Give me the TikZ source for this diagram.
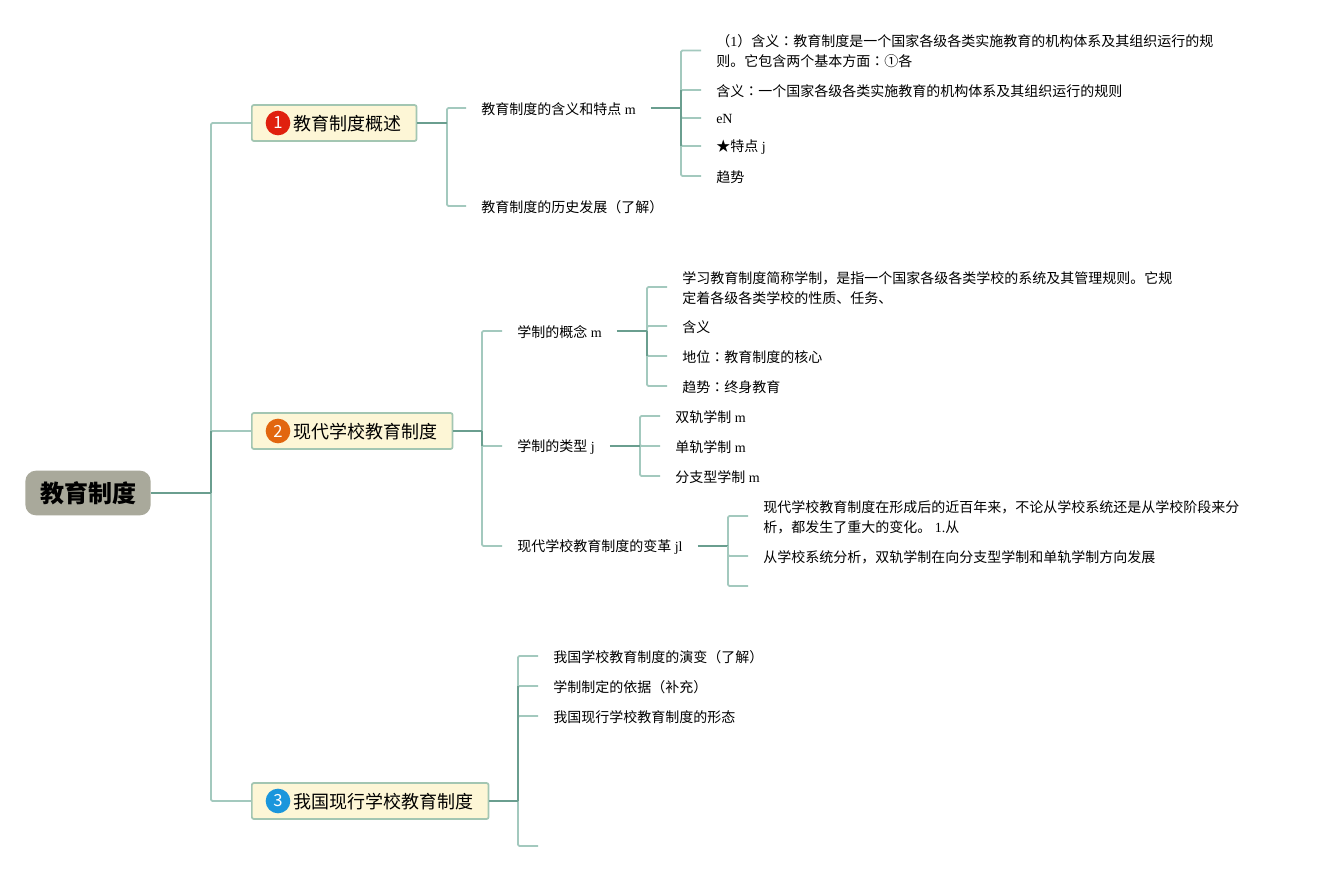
\documentclass[tikz,border=0pt]{standalone}
\usepackage{fontspec}
\setmainfont{Liberation Serif}
\newfontfamily\cjk{Noto Sans CJK SC}
\newfontfamily\cjktc{Noto Sans CJK TC}
\newcommand{\C}[1]{{\cjk #1}}
\newcommand{\Q}{{\cjktc ：}}
\definecolor{lite}{HTML}{A3C9BE}
\definecolor{deep}{HTML}{6A9E8F}
\definecolor{boxfill}{HTML}{FDF6D6}
\definecolor{boxline}{HTML}{A3C6B2}
\definecolor{rootfill}{HTML}{A9A99B}
\definecolor{bred}{HTML}{E0200E}
\definecolor{borange}{HTML}{E2660F}
\definecolor{bblue}{HTML}{1B96DC}
\usetikzlibrary{calc}
\tikzset{
  x=0.75pt,y=-0.75pt,
  litel/.style={draw=lite,line width=1.25pt,rounded corners=1pt},
  deepl/.style={draw=deep,line width=1.4pt},
  leaf/.style={inner xsep=11.25pt,inner ysep=0pt,anchor=west,yshift=-0.75pt,align=left,font=\fontsize{10.5pt}{15pt}\selectfont,text=black},
  topic/.style={draw=boxline,fill=boxfill,line width=1.3pt,rounded corners=1.5pt,minimum height=27pt,inner sep=0pt,anchor=west},
  topictext/.style={anchor=west,inner sep=0pt,yshift=-0.6pt,font=\fontsize{13.5pt}{18pt}\selectfont\cjk},
  rootn/.style={fill=rootfill,rounded corners=8pt,minimum height=33.5pt,minimum width=94pt,inner sep=0pt,font=\fontsize{18pt}{21pt}\selectfont\cjk\bfseries},
  badge/.style={circle,minimum size=18.5pt,inner sep=0pt,text=white,font=\fontsize{12.5pt}{15pt}\selectfont\cjk},
}
\newcommand{\tree}[4]{%
  \foreach \k in {#3}{\draw[litel] (#2) |- ($(\k.west)+(0,-1)$);}
  \draw[deepl] (#2 -| #1.east) -- (#2);
  \draw[deepl] #4;
}
\begin{document}
\begin{tikzpicture}
\useasboundingbox[fill=white] (0,0) rectangle (1323,871);
% root
\node[rootn] (root) at (88,493) {\raisebox{-0.7pt}{教育制度}};
% topics
\node[topic,minimum width=123.5pt] (t1) at (251,123) {};
\node[badge,fill=bred] (b1) at (278,123) {1};
\node[topictext] (l1) at (293,123) {教育制度概述};
\node[topic,minimum width=150.5pt] (t2) at (251,431) {};
\node[badge,fill=borange] (b2) at (278,431) {2};
\node[topictext] (l2) at (293,431) {现代学校教育制度};
\node[topic,minimum width=177.5pt] (t3) at (251,801) {};
\node[badge,fill=bblue] (b3) at (278,801) {3};
\node[topictext] (l3) at (293,801) {我国现行学校教育制度};
% level 2
\node[leaf] (a) at (466,108) {\C{教育制度的含义和特点} m};
\node[leaf] (b) at (466,206) {\C{教育制度的历史发展（了解）}};
\node[leaf] (c) at (502,331) {\C{学制的概念} m};
\node[leaf] (d) at (502,446) {\C{学制的类型} j};
\node[leaf] (e) at (502,546) {\C{现代学校教育制度的变革} jl};
\node[leaf] (f) at (538,656) {\C{我国学校教育制度的演变（了解）}};
\node[leaf] (g) at (538,686) {\C{学制制定的依据（补充）}};
\node[leaf] (h) at (538,716) {\C{我国现行学校教育制度的形态}};
\coordinate (i) at (538,847);
% level 3 under a
\node[leaf] (a1) at (701,50.5) {\C{（}1\C{）含义\Q 教育制度是一个国家各级各类实施教育的机构体系及其组织运行的规}\\\C{则。它包含两个基本方面\Q ①各}};
\node[leaf] (a2) at (701,90) {\C{含义\Q 一个国家各级各类实施教育的机构体系及其组织运行的规则}};
\node[leaf] (a3) at (701,118) {eN};
\node[leaf] (a4) at (701,146) {\C{★特点} j};
\node[leaf] (a5) at (701,176) {\C{趋势}};
% under c
\node[leaf] (c1) at (667,287) {\C{学习教育制度简称学制，是指一个国家各级各类学校的系统及其管理规则。它规}\\\C{定着各级各类学校的性质、任务、}};
\node[leaf] (c2) at (667,326) {\C{含义}};
\node[leaf] (c3) at (667,356) {\C{地位\Q 教育制度的核心}};
\node[leaf] (c4) at (667,386) {\C{趋势\Q 终身教育}};
% under d
\node[leaf] (d1) at (660,416) {\C{双轨学制} m};
\node[leaf] (d2) at (660,446) {\C{单轨学制} m};
\node[leaf] (d3) at (660,476) {\C{分支型学制} m};
% under e
\node[leaf] (e1) at (748,516) {\C{现代学校教育制度在形成后的近百年来，不论从学校系统还是从学校阶段来分}\\\C{析，都发生了重大的变化。} 1.\C{从}};
\node[leaf] (e2) at (748,556) {\C{从学校系统分析，双轨学制在向分支型学制和单轨学制方向发展}};
\coordinate (e3) at (748,586);
% trunks
\coordinate (T0) at (211,493);
\coordinate (T1) at (447,123);
\coordinate (T2) at (482,431);
\coordinate (T3) at (518,801);
\coordinate (Ta) at (681,108);
\coordinate (Tc) at (647,331);
\coordinate (Td) at (640,446);
\coordinate (Te) at (728,546);
\foreach \k in {t1,t2,t3}{\draw[litel] (T0) |- (\k.west);}
\draw[deepl] (root.east) -- (T0);
\draw[deepl] (T0) -- (T0|-t2.west);
\tree{t1}{T1}{a,b}{(T1) -- (T1)}
\tree{t2}{T2}{c,d,e}{(T2) -- ($(T2|-d.west)+(0,-1)$)}
\tree{t3}{T3}{f,g,h,i}{($(T3|-g.west)+(0,-1)$) -- (T3)}
\tree{a}{Ta}{a1,a2,a3,a4,a5}{($(Ta|-a2.west)+(0,-1)$) -- ($(Ta|-a4.west)+(0,-1)$)}
\tree{c}{Tc}{c1,c2,c3,c4}{(Tc) -- ($(Tc|-c3.west)+(0,-1)$)}
\tree{d}{Td}{d1,d2,d3}{(Td) -- (Td)}
\tree{e}{Te}{e1,e2}{(Te) -- ($(Te|-e2.west)+(0,-1)$)}
\draw[litel] (Te) |- (e3);
\end{tikzpicture}
\end{document}
